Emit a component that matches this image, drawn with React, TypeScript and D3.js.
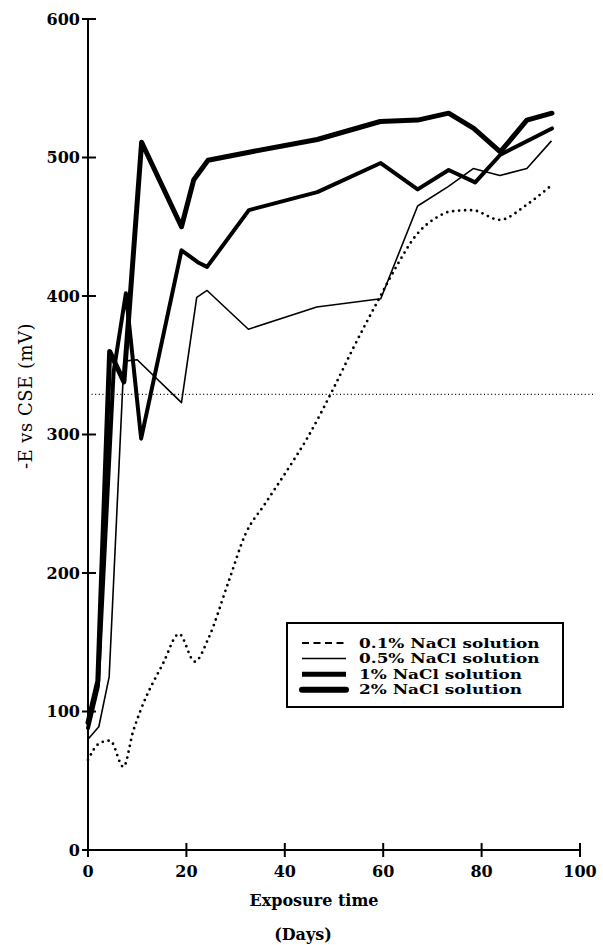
import React from "react";
import * as d3 from "d3";

const xTicks = [0, 20, 40, 60, 80, 100];
const yTicks = [0, 100, 200, 300, 400, 500, 600];

const days01 = [0, 2.3, 4.5, 7.2, 9.2, 10.6, 15.3, 18.5, 21.7, 24.5, 28.5, 32, 36, 41, 44.5, 50, 54, 59, 62.8, 66.5, 71, 73.6, 78, 83.7, 89.2, 93.9];
const e01 = [65, 77, 79, 60, 86, 100, 135, 156, 136, 153, 193, 228, 250, 277, 297, 334, 363, 397, 422, 443, 457, 461, 462, 455, 466, 479];

const days05 = [0, 2.2, 4.3, 7.3, 10, 19, 22.1, 24.2, 32.6, 46.5, 59.5, 67, 73.2, 78.3, 83.7, 89.2, 94.2];
const e05 = [80, 89, 125, 353, 354, 323, 399, 404, 376, 392, 398, 465, 479, 492, 487, 492, 512];

const days1 = [0, 2, 5.2, 7.7, 10.8, 19, 22.5, 24.2, 32.7, 46.6, 59.5, 67, 73.3, 78.7, 83.8, 94.3];
const e1 = [88, 118, 345, 402, 297, 433, 424, 421, 462, 475, 496, 477, 491, 482, 502, 521];

const days2 = [0, 2, 4.4, 7.3, 10.9, 19, 21.5, 24.4, 33, 46.6, 59.4, 67, 73.3, 78.4, 83.8, 89.2, 94.3];
const e2 = [92, 122, 360, 338, 511, 450, 484, 498, 504, 513, 526, 527, 532, 521, 504, 527, 532];

const refLevel = 329;
const refDays = [0, 103];

const legendLabels = ["0.1% NaCl solution", "0.5% NaCl solution", "1% NaCl solution", "2% NaCl solution"];

const FONT = "'DejaVu Serif', serif";

export default function App() {
  const x = d3.scaleLinear().domain([0, 100]).range([88, 580]);
  const y = d3.scaleLinear().domain([0, 600]).range([850, 19]);

  const mk = (ds: number[], es: number[]) => ds.map((d, i) => [d, es[i]] as [number, number]);
  const lineLin = d3.line<[number, number]>().x((d) => x(d[0])).y((d) => y(d[1]));
  const lineSmooth = d3
    .line<[number, number]>()
    .x((d) => x(d[0]))
    .y((d) => y(d[1]))
    .curve(d3.curveMonotoneX);

  const series = [
    { d: lineSmooth(mk(days01, e01)), w: 2.8, dash: "0 6", cap: "round" },
    { d: lineLin(mk(days05, e05)), w: 1.6, dash: undefined, cap: "butt" },
    { d: lineLin(mk(days1, e1)), w: 4, dash: undefined, cap: "round" },
    { d: lineLin(mk(days2, e2)), w: 5, dash: undefined, cap: "round" },
  ];

  const legendStyles = [
    { w: 2, dash: "7 4.5", cap: "butt" },
    { w: 1.5, dash: undefined, cap: "butt" },
    { w: 5, dash: undefined, cap: "butt" },
    { w: 6, dash: undefined, cap: "round" },
  ];

  const lgX = 287, lgY = 623, lgW = 276, lgH = 84;

  return (
    <svg
      width={603}
      height={945}
      style={{ position: "absolute", left: 0, top: 0, background: "#fff" }}
      fontFamily={FONT}
    >
      <rect x={0} y={0} width={603} height={945} fill="#fff" />
      {/* reference dotted line */}
      <line
        x1={x(refDays[0])}
        x2={x(refDays[1])}
        y1={y(refLevel)}
        y2={y(refLevel)}
        stroke="#000"
        strokeWidth={1.1}
        strokeDasharray="1 2.6"
      />
      {/* axes */}
      <line x1={x(0)} x2={x(0)} y1={y(0)} y2={y(600)} stroke="#000" strokeWidth={2} />
      <line x1={x(0)} x2={x(100)} y1={y(0)} y2={y(0)} stroke="#000" strokeWidth={2} />
      {yTicks.map((t) => (
        <g key={"y" + t}>
          <line x1={x(0) - 6} x2={x(0) + 8} y1={y(t)} y2={y(t)} stroke="#000" strokeWidth={2} />
          <text
            x={x(0) - 8}
            y={y(t)}
            dy="0.36em"
            textAnchor="end"
            fontSize={16}
            fontWeight="bold"
          >
            {t}
          </text>
        </g>
      ))}
      {xTicks.map((t) => (
        <g key={"x" + t}>
          <line x1={x(t)} x2={x(t)} y1={y(0) - 7} y2={y(0) + 7} stroke="#000" strokeWidth={2} />
          <text x={x(t)} y={877} textAnchor="middle" fontSize={16} fontWeight="bold">
            {t}
          </text>
        </g>
      ))}
      {/* axis titles */}
      <text x={314} y={906} textAnchor="middle" fontSize={16} fontWeight="bold">
        Exposure time
      </text>
      <text x={303} y={940} textAnchor="middle" fontSize={16} fontWeight="bold">
        (Days)
      </text>
      <text
        transform="translate(32,396) rotate(-90)"
        textAnchor="middle"
        fontSize={18}
        letterSpacing={0.5}
      >
        -E vs CSE (mV)
      </text>
      {/* series */}
      {series.map((s, i) => (
        <path
          key={"s" + i}
          d={s.d || ""}
          fill="none"
          stroke="#000"
          strokeWidth={s.w}
          strokeDasharray={s.dash}
          strokeLinecap={s.cap as any}
          strokeLinejoin="round"
        />
      ))}
      {/* legend */}
      <rect x={lgX} y={lgY} width={lgW} height={lgH} fill="#fff" stroke="#000" strokeWidth={2} />
      {legendLabels.map((lab, i) => {
        const yy = 643 + i * 15.6;
        const st = legendStyles[i];
        return (
          <g key={"l" + i}>
            <line
              x1={302}
              x2={346}
              y1={yy}
              y2={yy}
              stroke="#000"
              strokeWidth={st.w}
              strokeDasharray={st.dash}
              strokeLinecap={st.cap as any}
            />
            <g transform={`translate(359,${yy}) scale(1.3,1)`}>
              <text x={0} y={0} dy="0.36em" fontSize={13} fontWeight="bold">
                {lab}
              </text>
            </g>
          </g>
        );
      })}
    </svg>
  );
}
